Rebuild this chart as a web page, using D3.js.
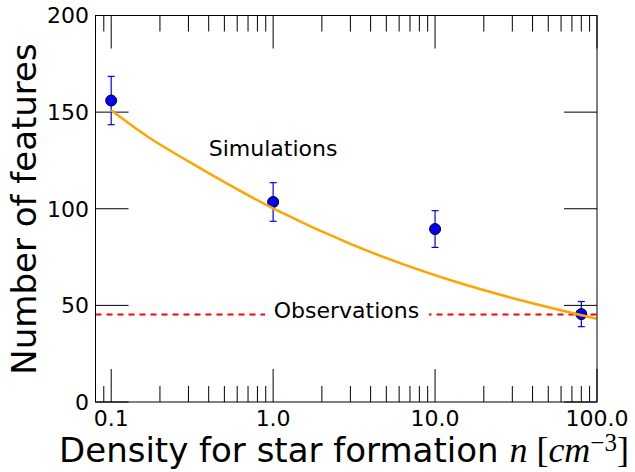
<!DOCTYPE html>
<html lang="en">
<head>
<meta charset="UTF-8">
<title>Features vs density</title>
<script src="https://cdn.jsdelivr.net/npm/d3@7"></script>
<style>
  body { margin: 0; background: #fff; }
  svg text { font-family: "DejaVu Sans", sans-serif; fill: #000; }
</style>
</head>
<body>
<svg id="chart" width="635" height="472"></svg>
<script>
// simulation points with error bars
var densities = [0.1, 1, 10, 80];
var featureCounts = [156, 103.5, 89.5, 45.5];
var featureErrors = [12.5, 10, 9.5, 6.5];

// orange fit curve
var curveX = [0.1, 0.173, 0.3, 1, 3, 12.5, 30, 100];
var curveY = [151, 136.6, 124.5, 100.2, 81.8, 63, 53.8, 43];

// observed level (dashed line)
var observedLevel = 45.3;

var xTickValues = [0.1, 1, 10, 100];
var xTickLabels = ["0.1", "1.0", "10.0", "100.0"];
var yTickValues = [0, 50, 100, 150, 200];
var yTickLabels = ["0", "50", "100", "150", "200"];

var svg = d3.select("#chart");
var pLeft = 95.5, pRight = 597, pTop = 15.5, pBottom = 402;

var x = d3.scaleLog().domain([0.08, 100]).range([pLeft, pRight]);
var y = d3.scaleLinear().domain([0, 200]).range([pBottom, pTop]);

var majorLen = 33, minorLen = 16;
var minorTicks = x.ticks().filter(function(v) {
    return xTickValues.indexOf(v) < 0 && v > 0.08 && v < 100;
});

// bottom/top x ticks (pointing inward)
var g = svg.append("g");
minorTicks.forEach(function(v) {
    g.append("line").attr("x1", x(v)).attr("x2", x(v)).attr("y1", pBottom).attr("y2", pBottom - minorLen).attr("stroke", "#000");
    g.append("line").attr("x1", x(v)).attr("x2", x(v)).attr("y1", pTop).attr("y2", pTop + minorLen).attr("stroke", "#000");
});
xTickValues.forEach(function(v, i) {
    g.append("line").attr("x1", x(v)).attr("x2", x(v)).attr("y1", pBottom).attr("y2", pBottom - majorLen).attr("stroke", "#000");
    g.append("line").attr("x1", x(v)).attr("x2", x(v)).attr("y1", pTop).attr("y2", pTop + majorLen).attr("stroke", "#000");
    g.append("text").attr("x", x(v)).attr("y", 425.5).attr("text-anchor", "middle")
        .style("font-size", "22px").text(xTickLabels[i]);
});
yTickValues.forEach(function(v, i) {
    g.append("line").attr("x1", pLeft).attr("x2", pLeft + majorLen).attr("y1", y(v)).attr("y2", y(v)).attr("stroke", "#000");
    g.append("line").attr("x1", pRight).attr("x2", pRight - majorLen).attr("y1", y(v)).attr("y2", y(v)).attr("stroke", "#000");
    g.append("text").attr("x", 89).attr("y", y(v)).attr("dy", "0.36em").attr("text-anchor", "end")
        .style("font-size", "22px").text(yTickLabels[i]);
});

// dashed observations line with label box
svg.append("line")
    .attr("x1", pLeft).attr("x2", pRight)
    .attr("y1", y(observedLevel)).attr("y2", y(observedLevel))
    .attr("stroke", "red").attr("stroke-width", 2).attr("stroke-dasharray", "6,5");
svg.append("rect").attr("x", 265).attr("y", y(observedLevel) - 14).attr("width", 164).attr("height", 26).attr("fill", "#fff");
svg.append("text").attr("x", 346.5).attr("y", 318.3).attr("text-anchor", "middle")
    .style("font-size", "22px").text("Observations");

// error bars + markers
var pts = svg.append("g");
densities.forEach(function(d, i) {
    var cx = x(d), y0 = y(featureCounts[i] - featureErrors[i]), y1 = y(featureCounts[i] + featureErrors[i]);
    pts.append("line").attr("x1", cx).attr("x2", cx).attr("y1", y0).attr("y2", y1).attr("stroke", "#00f").attr("stroke-width", 1.2);
    pts.append("line").attr("x1", cx - 3.5).attr("x2", cx + 3.5).attr("y1", y0).attr("y2", y0).attr("stroke", "#00f").attr("stroke-width", 1.2);
    pts.append("line").attr("x1", cx - 3.5).attr("x2", cx + 3.5).attr("y1", y1).attr("y2", y1).attr("stroke", "#00f").attr("stroke-width", 1.2);
    pts.append("circle").attr("cx", cx).attr("cy", y(featureCounts[i])).attr("r", 5.5)
        .attr("fill", "#00f").attr("stroke", "#000").attr("stroke-width", 1);
});

// fit curve
var line = d3.line()
    .x(function(d) { return x(d[0]); })
    .y(function(d) { return y(d[1]); })
    .curve(d3.curveMonotoneX);
svg.append("path")
    .datum(d3.zip(curveX, curveY))
    .attr("d", line)
    .attr("fill", "none").attr("stroke", "orange").attr("stroke-width", 2.5);

svg.append("text").attr("x", x(1)).attr("y", 155.7).attr("text-anchor", "middle")
    .style("font-size", "22px").text("Simulations");

// frame
svg.append("rect").attr("x", pLeft).attr("y", pTop).attr("width", pRight - pLeft).attr("height", pBottom - pTop)
    .attr("fill", "none").attr("stroke", "#000").attr("stroke-width", 1);

// axis labels
svg.append("text").attr("transform", "translate(36,209) rotate(-90)").attr("text-anchor", "middle")
    .style("font-size", "34px").text("Number of features");

var xl = svg.append("text").attr("x", 344).attr("y", 462).attr("text-anchor", "middle").style("font-size", "34px");
xl.append("tspan").text("Density for star formation ");
xl.append("tspan").style("font-family", "Liberation Serif, serif").style("font-style", "italic").style("font-size", "36px").text("n");
xl.append("tspan").style("font-family", "Liberation Serif, serif").style("font-size", "36px").text(" [");
xl.append("tspan").style("font-family", "Liberation Serif, serif").style("font-style", "italic").style("font-size", "36px").text("cm");
xl.append("tspan").style("font-family", "Liberation Serif, serif").style("font-size", "25px").attr("dy", -11).text("\u22123");
xl.append("tspan").style("font-family", "Liberation Serif, serif").style("font-size", "36px").attr("dy", 11).text("]");
</script>
</body>
</html>
